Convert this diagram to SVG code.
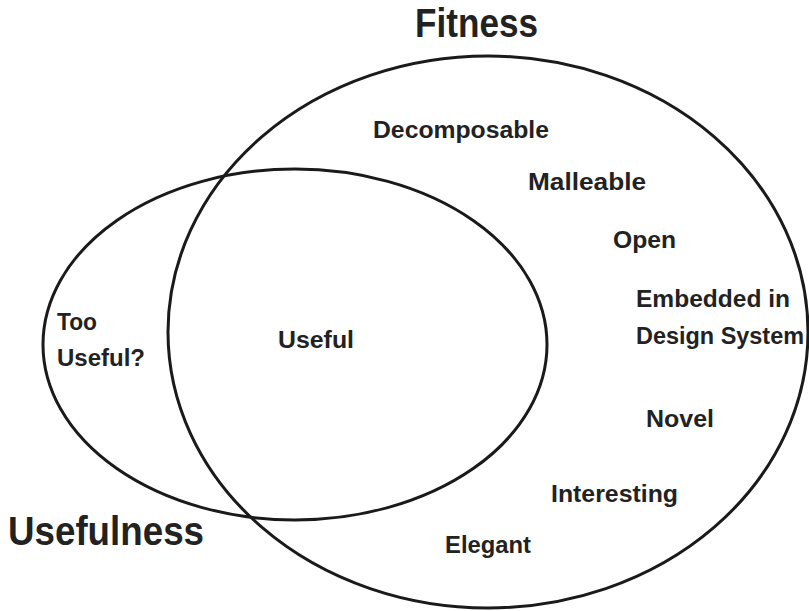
<svg xmlns="http://www.w3.org/2000/svg" width="809" height="611" viewBox="0 0 809 611">
<style>
.c{fill:none;stroke:#1a1a1a;stroke-width:3}
.t{font-family:"Liberation Sans",Arial,sans-serif;font-weight:bold;fill:#222;font-size:23.5px}
.h{font-family:"Liberation Sans",Arial,sans-serif;font-weight:bold;fill:#222;font-size:40px}
</style>
<rect width="809" height="611" fill="#fff"/>
<g id="fitness">
<ellipse class="c" cx="488" cy="332" rx="320" ry="276"/>
<text class="h" x="415" y="37" textLength="123" lengthAdjust="spacingAndGlyphs">Fitness</text>
</g>
<g id="usefulness">
<ellipse class="c" cx="295" cy="344.5" rx="252" ry="175.5"/>
<text class="h" x="8" y="545" textLength="196" lengthAdjust="spacingAndGlyphs">Usefulness</text>
</g>
<g id="labels">
<text class="t" x="373" y="138" textLength="176" lengthAdjust="spacingAndGlyphs">Decomposable</text>
<text class="t" x="528" y="190" textLength="118" lengthAdjust="spacingAndGlyphs">Malleable</text>
<text class="t" x="613" y="248" textLength="63" lengthAdjust="spacingAndGlyphs">Open</text>
<text class="t" x="636" y="307" textLength="154" lengthAdjust="spacingAndGlyphs">Embedded in</text>
<text class="t" x="636" y="344" textLength="168" lengthAdjust="spacingAndGlyphs">Design System</text>
<text class="t" x="646" y="427" textLength="68" lengthAdjust="spacingAndGlyphs">Novel</text>
<text class="t" x="551" y="502" textLength="127" lengthAdjust="spacingAndGlyphs">Interesting</text>
<text class="t" x="445" y="553" textLength="86" lengthAdjust="spacingAndGlyphs">Elegant</text>
<text class="t" x="278" y="348" textLength="76" lengthAdjust="spacingAndGlyphs">Useful</text>
<text class="t" x="57" y="330" textLength="40" lengthAdjust="spacingAndGlyphs">Too</text>
<text class="t" x="57" y="366" textLength="88" lengthAdjust="spacingAndGlyphs">Useful?</text>
</g>
<g id="connectors"></g>
</svg>
